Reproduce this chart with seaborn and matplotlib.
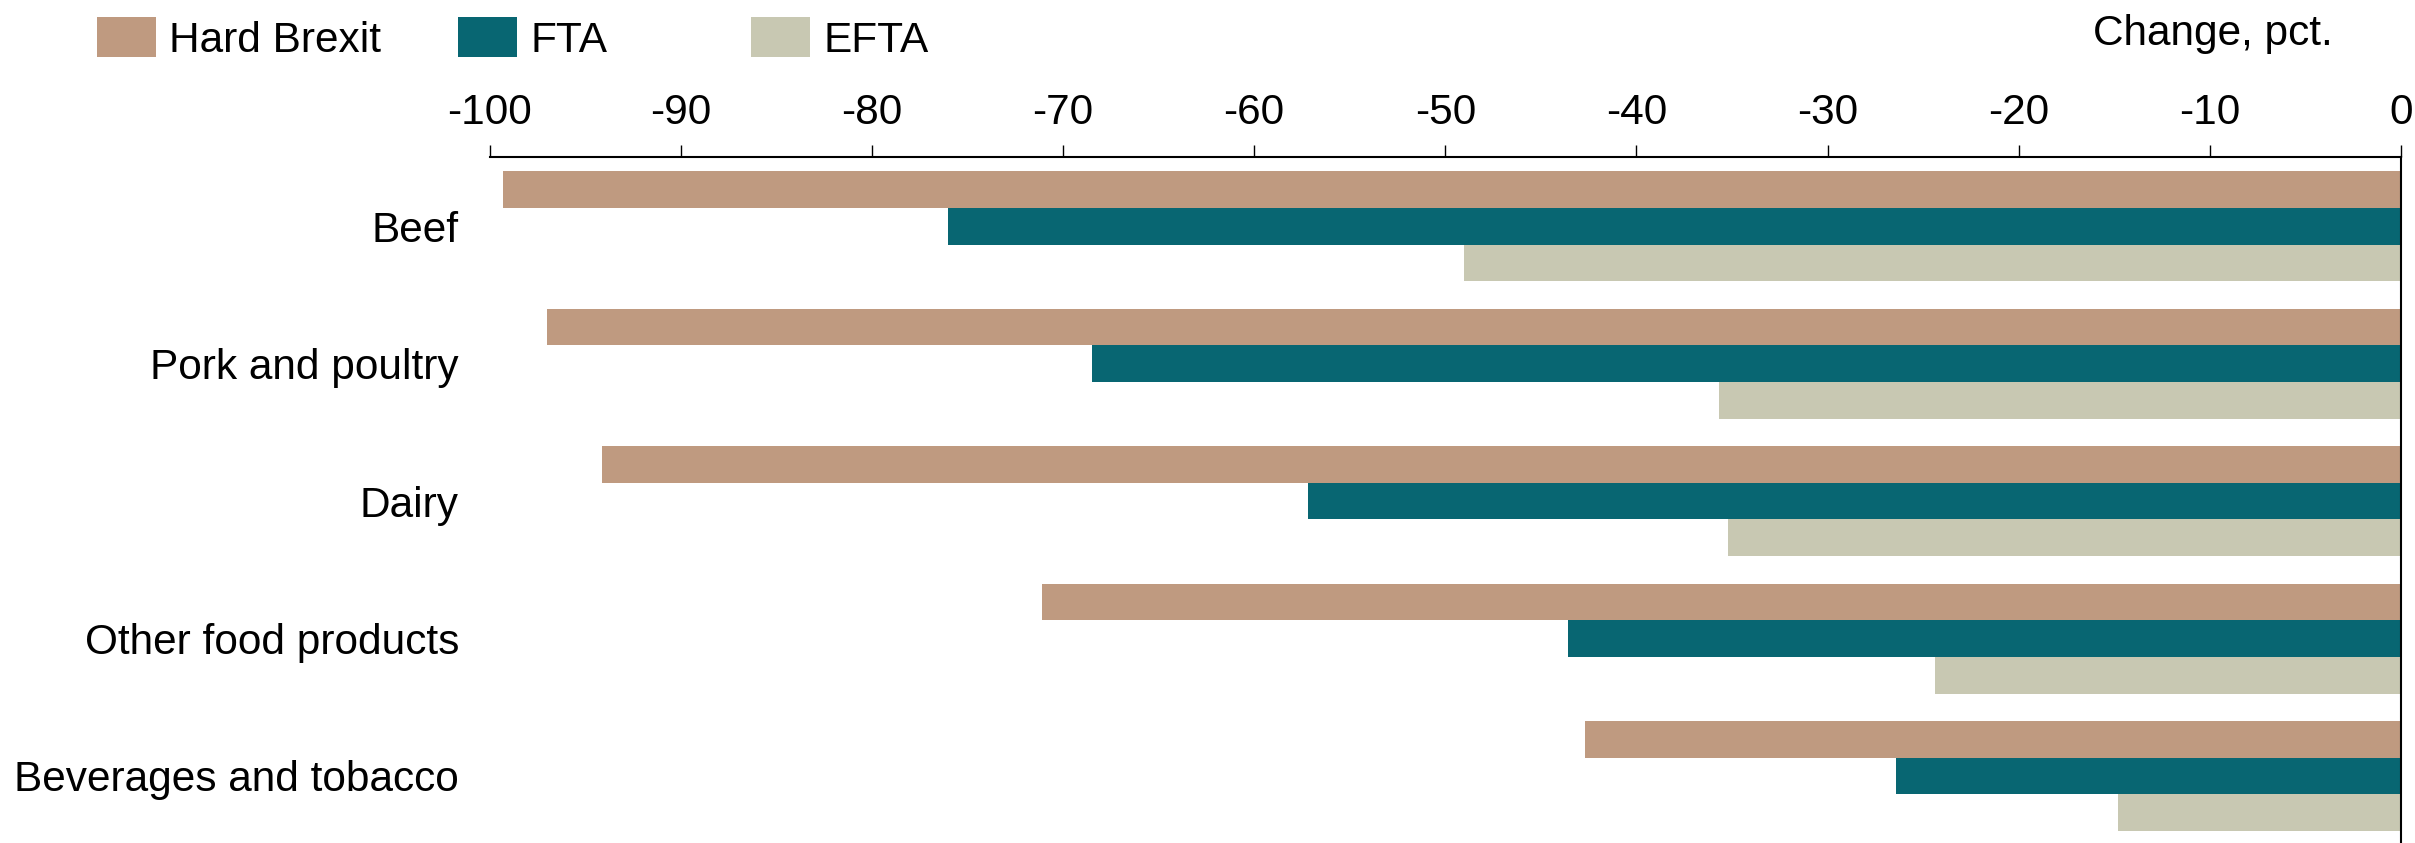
import numpy as np
import pandas as pd
import seaborn as sns
import matplotlib.pyplot as plt

sns.set_style("white")
plt.rcParams['font.family'] = ['Liberation Sans', 'DejaVu Sans']
plt.rcParams['axes.unicode_minus'] = False
plt.rcParams['text.color'] = 'black'
plt.rcParams['xtick.color'] = 'black'
plt.rcParams['ytick.color'] = 'black'
plt.rcParams['axes.labelcolor'] = 'black'

#資料
categories = ["Beef", "Pork and poultry", "Dairy", "Other food products", "Beverages and tobacco"]
scenarios = ["Hard Brexit", "FTA", "EFTA"]
hard_brexit = [-99.3, -97.0, -94.1, -71.1, -42.7]
fta = [-76.0, -68.5, -57.2, -43.6, -26.4]
efta = [-49.0, -35.7, -35.2, -24.4, -14.8]
xticks = list(range(-100, 1, 10))

colors = ["#BF9A80", "#086672", "#C8C8B2"]
FS = 30.5

df = pd.DataFrame({"category": categories, "Hard Brexit": hard_brexit, "FTA": fta, "EFTA": efta})
long_df = df.melt(id_vars="category", var_name="scenario", value_name="change")

fig = plt.figure(figsize=(24.15, 8.43), dpi=100)
ax = fig.add_axes([0.2027, 0.0, 0.7915, 0.8138])

sns.barplot(data=long_df, y="category", x="change", hue="scenario",
            order=categories, hue_order=scenarios, palette=colors,
            orient="h", width=0.8, linewidth=0, saturation=1, ax=ax)

ax.set_xlim(-100, 0)
ax.set_ylim(4.488, -0.505)
ax.set_xlabel("")
ax.set_ylabel("")

#上方刻度
ax.xaxis.tick_top()
ax.set_xticks(xticks)
ax.tick_params(axis="x", top=True, bottom=False, length=9, width=1, color="black",
               labelsize=FS, pad=8.5)
ax.tick_params(axis="y", left=False, length=0, labelsize=FS, pad=22)

for side in ["left", "bottom"]:
    ax.spines[side].set_visible(False)
for side in ["top", "right"]:
    ax.spines[side].set_visible(True)
    ax.spines[side].set_color("black")
    ax.spines[side].set_linewidth(1.5)

#圖例（三個獨立位置）
handles, labels = ax.get_legend_handles_labels()
ax.get_legend().remove()
leg_x = [0.0402, 0.1897, 0.311]
for h, l, x in zip(handles, labels, leg_x):
    fig.legend([h], [l], loc="center left", bbox_to_anchor=(x, 0.9537),
               frameon=False, fontsize=FS, handlelength=1.4, handleheight=1.07,
               handletextpad=0.3, borderpad=0, borderaxespad=0)

fig.text(0.966, 0.9466, "Change, pct.", ha="right", va="baseline", fontsize=FS)

fig.savefig("out.png", dpi=100)
